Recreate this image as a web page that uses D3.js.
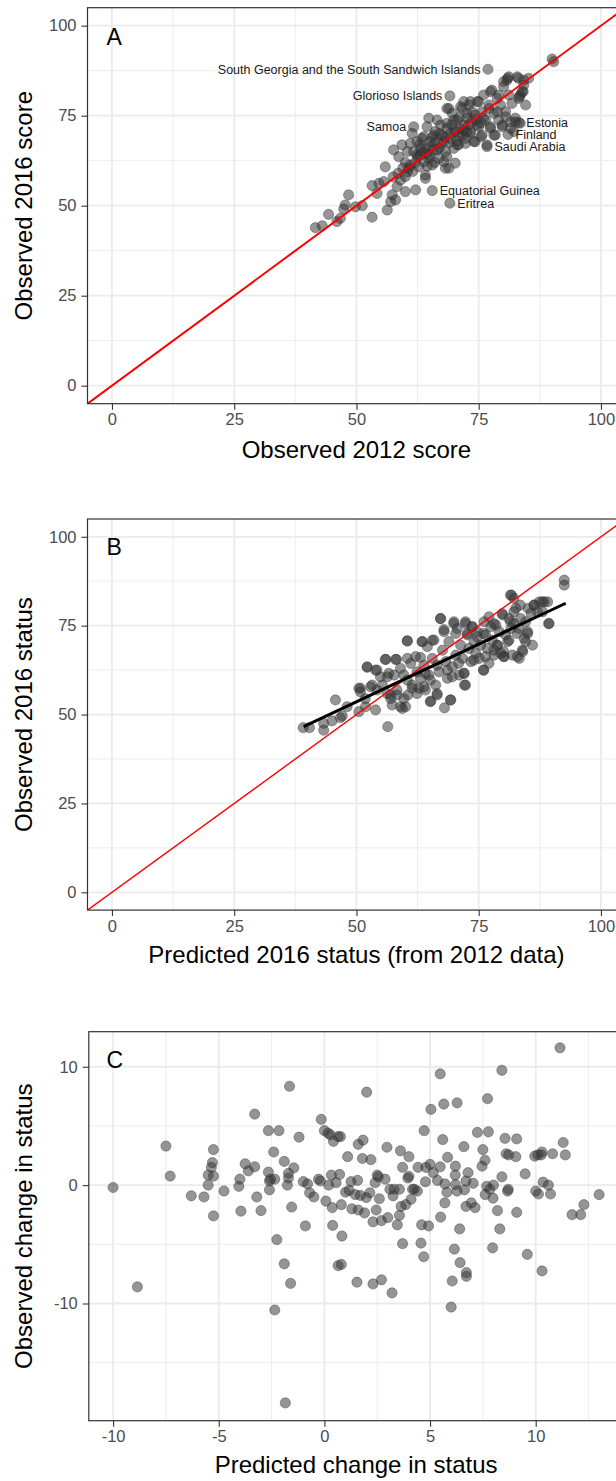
<!DOCTYPE html>
<html><head><meta charset="utf-8">
<script src="https://cdn.jsdelivr.net/npm/d3@7"></script>
<style>
body{margin:0;background:#fff}
svg{display:block}
text{font-family:"Liberation Sans",Arial,Helvetica,sans-serif}
</style>
</head><body>
<svg id="chart" width="616" height="1481"></svg>
<script>
// ---------- Panel A: Observed 2012 score vs Observed 2016 score ----------
const aX = [41.6,43.0,44.3,46.0,46.7,47.4,48.4,49.8,51.2,53.2,53.2,54.2,54.6,55.9,56.3,57.0,57.3,58.0,58.3,59.0,59.3,60.0,60.0,60.4,60.7,61.0,61.4,61.7,62.1,62.4,62.75,63.1,63.4,63.8,64.1,64.45,64.45,64.8,65.1,65.5,65.8,66.15,66.5,66.8,67.2,67.5,67.9,68.2,68.5,68.9,69.2,69.6,69.9,70.2,70.6,70.9,71.3,71.6,71.95,72.3,72.6,73.0,73.3,73.65,74.0,74.3,74.7,75.0,75.4,75.7,76.0,76.4,76.7,77.1,77.4,77.7,78.1,78.4,78.8,79.1,79.45,79.8,80.1,80.5,80.8,81.15,81.5,81.8,82.2,82.5,82.9,83.2,83.5,83.9,84.2,84.6,85.2,81.15,80.1,77.4,73.3,71.95,68.5,90.0,90.35,76.9,69.1,83.2,81.0,65.5,69.1,
47.7,55.6,57.6,58.65,60.4,61.0,61.7,62.4,63.1,63.8,64.1,64.8,65.1,65.8,66.5,67.2,67.9,68.2,68.5,68.9,69.2,69.9,70.2,70.6,71.3,71.6,72.3,72.6,73.3,73.65,74.3,74.7,75.0,75.7,76.0,76.7,77.1,77.4,78.1,78.8,79.1,79.8,80.5,81.5,82.5,83.5,84.2,80.9,83.1,83.3,84.1,
62.5,63.5,64.2,65.0,66.0,67.0,68.0,69.0,70.0,71.0,72.0,66.0,64.5,62.0,61.5,60.0,69.5,70.5,72.5,73.0,74.5,75.5,71.0,68.5,67.0,63.0,65.5,59.5,58.5,57.5];
const aY = [43.9,44.4,47.6,45.6,46.5,49.1,53.0,49.7,50.0,46.8,55.6,53.4,56.2,60.8,48.8,51.1,53.0,51.6,55.3,57.1,66.9,53.9,58.1,65.0,60.4,67.3,70.1,71.9,54.4,64.1,60.8,65.9,68.7,62.2,57.6,71.95,64.5,74.3,67.8,61.3,65.5,70.6,73.8,63.15,67.3,69.6,62.2,65.0,72.9,60.4,68.7,75.65,65.9,70.6,73.8,66.9,77.5,69.6,72.4,67.3,75.65,77.97,70.1,73.3,67.8,75.2,78.9,71.95,69.2,76.1,80.75,73.8,66.4,77.97,71.95,82.1,75.65,69.6,79.8,73.8,77.97,71.95,83.1,76.1,84.9,80.75,73.3,78.4,70.6,74.3,85.8,79.8,72.9,81.7,84.9,77.97,85.4,85.8,84.5,81.7,78.9,78.9,77.0,90.75,90.0,87.9,80.5,73.1,69.8,54.2,50.7,
50.2,56.7,65.5,63.6,59.4,61.3,65.0,67.8,64.1,69.2,58.5,63.15,66.4,69.6,65.5,72.4,67.8,60.4,63.6,77.0,70.1,73.8,61.8,66.9,71.5,77.0,68.7,74.3,70.6,76.1,67.8,72.4,78.9,69.6,74.3,66.9,77.0,71.5,69.6,76.1,80.75,72.4,74.7,71.5,73.3,80.75,83.5,85.4,85.4,80.3,81.7,
63.5,64.8,66.0,64.0,67.5,66.0,69.0,67.5,71.0,69.5,71.0,62.0,61.0,62.0,59.5,62.0,72.5,68.0,70.5,72.5,74.0,73.0,74.5,71.5,70.0,67.0,69.0,60.5,59.0,58.0];
// labelled countries in panel A
const labelNames = ["South Georgia and the South Sandwich Islands","Glorioso Islands","Samoa","Estonia","Finland","Saudi Arabia","Equatorial Guinea","Eritrea"];
const labelX = [76.9,69.1,61.7,83.2,81.0,76.7,65.5,69.1];
const labelY = [87.9,80.5,71.9,73.1,69.8,66.4,54.2,50.7];
const labelSide = ["left","left","left","right","right","right","right","right"];

// ---------- Panel B: Predicted 2016 status vs Observed 2016 status ----------
const bX = [39.1,40.4,43.3,43.3,45.0,45.7,46.7,47.1,48.1,50.5,50.5,50.8,51.85,52.2,53.2,53.9,54.2,54.9,55.3,56.0,56.3,56.4,56.6,57.0,57.3,57.7,58.2,58.3,59.0,59.4,59.7,60.05,60.4,60.4,60.5,61.1,61.4,62.1,62.4,62.8,63.1,63.5,63.8,64.1,64.5,64.8,65.2,65.5,65.85,66.2,66.5,66.9,67.2,67.6,67.9,68.0,68.3,68.6,68.9,69.3,69.6,69.95,70.3,70.6,71.0,71.3,71.7,72.0,72.1,72.3,72.7,73.0,73.4,73.7,74.05,74.4,74.7,75.1,75.4,76.0,76.1,76.4,76.8,77.1,77.5,77.8,78.15,78.5,78.8,79.2,79.5,79.9,80.2,80.5,80.9,81.2,81.6,81.7,81.9,82.25,82.6,82.9,83.3,83.5,83.6,84.0,84.3,84.6,85.0,85.1,85.7,86.0,86.35,87.0,87.4,88.05,88.4,89.1,89.4,92.5,92.5,
52.2,53.9,55.9,58.0,60.4,63.4,63.1,65.5,67.2,67.9,69.9,70.3,72.3,72.6,73.65,74.7,76.0,77.1,78.1,78.8,79.8,80.1,81.2,81.5,82.2,82.9,83.2,83.9,84.6,85.0,86.3,88.0,89.3,81.5,82.2,64.1,65.1,66.5,68.6,69.6,70.9,72.3,72.0,74.0,76.0,76.4,78.1,80.1,60.4,61.4,62.4,63.8,65.1,66.5,69.2,56.3,57.0,58.3,59.0,59.7,54.2,52.9,50.8,51.8];
const bY = [46.3,46.3,47.5,45.6,48.2,54.1,49.1,49.6,52.2,57.4,50.8,56.4,52.2,63.4,58.3,51.3,62.5,60.6,58.3,65.5,55.9,46.6,61.6,54.5,52.7,61.1,65.5,55.5,63.0,51.7,61.1,52.2,70.7,65.8,55.5,64.4,58.3,66.3,62.0,57.4,60.2,70.5,63.9,56.9,69.1,61.1,53.8,65.8,70.95,58.3,55.5,62.0,77.0,68.1,73.3,51.9,64.9,60.2,70.5,54.1,63.45,76.1,66.7,74.2,61.1,69.5,65.8,61.6,58.3,76.1,72.4,68.6,64.9,74.7,70.5,67.2,73.3,65.8,69.5,62.5,76.1,72.4,68.6,64.4,74.7,70.95,66.7,75.2,69.5,73.3,67.2,78.0,66.3,72.4,70.5,77.0,74.2,83.6,66.7,75.6,79.9,72.8,65.8,80.8,77.0,67.7,71.4,76.1,73.3,79.9,78.5,69.5,80.8,78.9,81.7,78.9,81.7,81.7,75.6,87.8,86.4,
63.3,62.5,65.5,65.5,70.7,70.5,66.1,70.9,77.0,73.9,75.6,72.8,75.6,72.8,74.7,71.9,72.8,77.5,75.6,69.5,78.4,66.3,70.9,76.1,78.9,66.3,74.2,68.1,70.5,72.8,80.8,81.7,75.6,83.6,82.7,61.6,59.7,63.9,62.5,60.6,64.4,58.3,61.6,65.3,62.5,66.3,68.1,67.7,59.7,57.4,55.9,57.8,53.6,55.9,54.1,60.6,55.5,56.9,52.2,54.5,56.9,57.8,57.4,54.5];
// fitted regression line (endpoints)
const fitX = [39.2, 92.8];
const fitY = [46.6, 81.3];

// ---------- Panel C: Predicted change vs Observed change ----------
const cX = [-10,-8.85,-7.5,-7.3,-6.3,-5.7,-5.5,-5.5,-5.35,-5.3,-5.25,-5.25,-5.25,-4.75,-4.05,-4.0,-3.95,-3.75,-3.6,-3.3,-3.3,-3.2,-3.0,-2.65,-2.65,-2.6,-2.6,-2.55,-2.4,-2.35,-2.25,-2.35,-2.15,-1.9,-1.9,-1.85,-1.75,-1.7,-1.7,-1.65,-1.6,-1.55,-1.45,-1.2,-1.0,-0.9,-0.8,-0.7,-0.5,-0.28,-0.19,-0.15,0,0.07,0.17,0.2,0.28,0.33,0.37,0.39,0.43,0.55,0.65,0.72,0.76,0.65,0.8,0.8,0.83,1.0,1.1,1.17,1.26,1.3,1.46,1.54,1.57,1.6,1.6,1.7,1.8,1.83,1.9,1.98,2.0,2.15,2.2,2.3,2.3,2.4,2.45,2.5,2.55,2.6,2.7,2.7,2.87,2.96,3.0,3.1,3.2,3.25,3.3,3.45,3.55,3.55,3.6,3.63,3.7,3.7,3.85,3.95,4.0,4.0,4.1,4.17,4.26,4.4,4.43,4.57,4.6,4.7,4.72,4.78,4.8,4.93,5.0,5.04,5.15,5.35,5.48,5.5,5.48,5.6,5.65,5.7,5.7,5.8,5.83,6.0,6.05,6.15,6.2,6.19,6.2,6.28,6.28,6.4,6.42,6.6,6.63,6.7,6.72,6.72,6.7,6.8,6.95,7.04,7.13,7.24,7.46,7.5,7.6,7.61,7.68,7.76,7.72,7.83,7.96,7.98,8.0,8.19,8.3,8.4,8.4,8.55,8.6,8.67,8.72,8.7,9.06,9.1,9.1,9.5,9.6,9.95,10.0,10.1,10.13,10.26,10.3,10.3,10.35,10.6,10.7,10.8,11.15,11.3,11.4,11.72,12.13,12.28,13.0];
const cY = [-0.2,-8.6,3.3,0.76,-0.9,-1.0,0.85,0,1.5,1.9,3.0,0.76,-2.6,-0.5,-0.1,0.5,-2.2,1.8,1.2,6.0,1.55,-1.0,-2.15,4.6,1.1,0.35,-0.4,0.5,2.8,0.5,-4.6,-10.55,4.6,-6.65,2.0,-18.4,0,0.6,1.0,8.35,-8.3,-1.85,1.45,4.05,0.3,-3.45,0.1,-0.65,-1.0,0.5,0.35,5.55,4.6,-1.35,4.4,0,4.25,0.85,-1.9,-3.4,3.7,0.2,4.1,0.9,4.1,-6.8,-6.7,-1.65,-4.3,-0.6,2.4,-0.45,0.3,-2.0,-0.8,-8.2,0.4,3.45,-2.1,-0.87,2.25,3.8,-2.35,-1.05,7.85,-0.65,2.15,-3.1,-8.35,0.2,-2.1,0.85,0.7,-1.15,-3.0,-8.0,0.5,3.2,-2.75,-0.35,-9.1,-0.9,-0.35,-3.35,-2.55,-0.35,2.9,-1.8,1.5,-4.95,-1.65,0.6,2.4,0.75,-1.2,-0.35,-0.35,-0.5,1.5,-4.9,-3.35,-6.05,4.6,0.28,1.5,-3.45,1.75,6.4,1.05,0.4,9.4,-2.7,1.55,3.85,6.85,0.1,-1.5,-0.6,2.35,-10.3,-8.1,-5.4,1.6,0.85,0.05,6.95,-0.5,-3.7,-6.55,3.25,-0.4,0.35,-7.4,-7.7,-1.8,1.05,-1.5,0.15,-1.9,4.45,1.6,3.0,2.1,-0.8,-0.1,4.5,7.3,-0.35,-5.3,-1.1,0,-2.15,-3.7,0.7,9.7,3.95,2.65,-0.5,2.55,-0.35,2.4,3.9,-2.3,0.95,-5.85,2.45,-0.5,2.55,-0.75,2.55,-7.25,2.8,0.25,0,-0.75,2.65,11.6,3.6,2.55,-2.5,-2.5,-1.65,-0.8];

// ---------- tick values ----------
const abTicks = [0,25,50,75,100];
const cXTicks = [-10,-5,0,5,10];
const cYTicks = [-10,0,10];

const svg = d3.select("#chart");

const panels = [
  {id:"A", xs:aX, ys:aY, xDom:[-5,105], yDom:[-5,105], xR:[87.5,625.4], yR:[403.7,7.7],
   xT:abTicks, yT:abTicks, xTitle:"Observed 2012 score", yTitle:"Observed 2016 score",
   identity:true, idWidth:2, xTitleY:458, letterY:45},
  {id:"B", xs:bX, ys:bY, xDom:[-5,105], yDom:[-5,105], xR:[87.5,625.4], yR:[910.1,519],
   xT:abTicks, yT:abTicks, xTitle:"Predicted 2016 status (from 2012 data)", yTitle:"Observed 2016 status",
   identity:true, idWidth:1.4, fit:true, xTitleY:963, letterY:555},
  {id:"C", xs:cX, ys:cY, xDom:[-11.15,14.15], yDom:[-19.9,12.96], xR:[88.8,623.4], yR:[1420.7,1031.7],
   xT:cXTicks, yT:cYTicks, xTitle:"Predicted change in status", yTitle:"Observed change in status",
   identity:false, xTitleY:1473, letterY:1068}
];

function minors(ticks, dom){
  const step = ticks[1]-ticks[0], out=[];
  for(let v=ticks[0]-step/2; v<=dom[1]; v+=step){ if(v>=dom[0]) out.push(v); }
  return out;
}

panels.forEach((p,pi)=>{
  const x = d3.scaleLinear().domain(p.xDom).range(p.xR);
  const y = d3.scaleLinear().domain(p.yDom).range(p.yR);
  const g = svg.append("g");
  const clipId = "clip"+p.id;
  g.append("clipPath").attr("id",clipId).append("rect")
    .attr("x",p.xR[0]).attr("y",p.yR[1]).attr("width",p.xR[1]-p.xR[0]).attr("height",p.yR[0]-p.yR[1]);
  const inner = g.append("g").attr("clip-path",`url(#${clipId})`);
  // minor grid
  minors(p.xT,p.xDom).forEach(v=>inner.append("line").attr("x1",x(v)).attr("x2",x(v)).attr("y1",p.yR[0]).attr("y2",p.yR[1]).attr("stroke","#EBEBEB").attr("stroke-width",0.9));
  minors(p.yT,p.yDom).forEach(v=>inner.append("line").attr("y1",y(v)).attr("y2",y(v)).attr("x1",p.xR[0]).attr("x2",p.xR[1]).attr("stroke","#EBEBEB").attr("stroke-width",0.9));
  // major grid
  p.xT.forEach(v=>inner.append("line").attr("x1",x(v)).attr("x2",x(v)).attr("y1",p.yR[0]).attr("y2",p.yR[1]).attr("stroke","#EBEBEB").attr("stroke-width",1.8));
  p.yT.forEach(v=>inner.append("line").attr("y1",y(v)).attr("y2",y(v)).attr("x1",p.xR[0]).attr("x2",p.xR[1]).attr("stroke","#EBEBEB").attr("stroke-width",1.8));
  // points
  inner.append("g").selectAll("circle").data(p.xs.map((v,i)=>[v,p.ys[i]])).join("circle")
    .attr("cx",d=>x(d[0])).attr("cy",d=>y(d[1])).attr("r",5.1)
    .attr("fill","#333").attr("fill-opacity",0.52)
    .attr("stroke","#333").attr("stroke-opacity",0.5).attr("stroke-width",0.8);
  // identity line
  if(p.identity){
    inner.append("line").attr("x1",x(p.xDom[0])).attr("y1",y(p.xDom[0])).attr("x2",x(p.xDom[1])).attr("y2",y(p.xDom[1]))
      .attr("stroke","#FF0000").attr("stroke-width",p.idWidth);
  }
  if(p.fit){
    inner.append("path").datum(fitX.map((v,i)=>[v,fitY[i]]))
      .attr("d",d3.line().x(d=>x(d[0])).y(d=>y(d[1])))
      .attr("stroke","#000").attr("stroke-width",3).attr("fill","none");
  }
  // labels for panel A
  if(p.id==="A"){
    g.append("g").selectAll("text").data(labelNames.map((n,i)=>({n,x:labelX[i],y:labelY[i],s:labelSide[i]}))).join("text")
      .attr("x",d=>x(d.x)+(d.s==="left"?-7.5:7.5)).attr("y",d=>y(d.y)).attr("dy","0.36em")
      .attr("text-anchor",d=>d.s==="left"?"end":"start")
      .attr("font-size",12.5).attr("fill","#1a1a1a").text(d=>d.n);
  }
  // border
  g.append("rect").attr("x",p.xR[0]).attr("y",p.yR[1]).attr("width",p.xR[1]-p.xR[0]).attr("height",p.yR[0]-p.yR[1])
    .attr("fill","none").attr("stroke","#333").attr("stroke-width",1.2);
  // axes
  const xa = g.append("g").attr("transform",`translate(0,${p.yR[0]})`)
    .call(d3.axisBottom(x).tickValues(p.xT).tickSize(6).tickPadding(4).tickFormat(d3.format("d")));
  const ya = g.append("g").attr("transform",`translate(${p.xR[0]},0)`)
    .call(d3.axisLeft(y).tickValues(p.yT).tickSize(6).tickPadding(5).tickFormat(d3.format("d")));
  [xa,ya].forEach(a=>{
    a.select(".domain").remove();
    a.selectAll(".tick line").attr("stroke","#333").attr("stroke-width",1.1);
    a.selectAll(".tick text").attr("fill","#4D4D4D").attr("font-size",16.5)
      .style("font-family","'Liberation Sans',Arial,sans-serif").text(function(){return d3.select(this).text().replace("\u2212","-");});
  });
  // titles
  g.append("text").attr("x",(p.xR[0]+p.xR[1])/2).attr("y",p.xTitleY).attr("text-anchor","middle")
    .attr("font-size",24).attr("fill","#000").text(p.xTitle);
  g.append("text").attr("transform",`translate(32,${(p.yR[0]+p.yR[1])/2}) rotate(-90)`).attr("text-anchor","middle")
    .attr("font-size",24).attr("fill","#000").text(p.yTitle);
  // panel letter
  g.append("text").attr("x",106.5).attr("y",p.letterY).attr("font-size",23).attr("fill","#000").text(p.id);
});
</script>
</body></html>
